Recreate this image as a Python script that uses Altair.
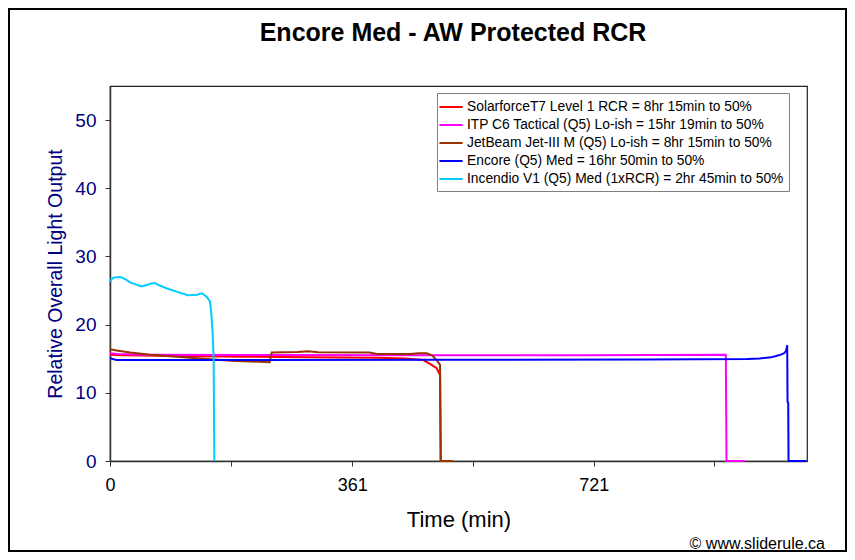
import altair as alt
import pandas as pd

# ---------------- data ----------------
series_names = [
    "SolarforceT7 Level 1 RCR = 8hr 15min to 50%",
    "ITP C6 Tactical (Q5) Lo-ish = 15hr 19min to 50%",
    "JetBeam Jet-III M (Q5) Lo-ish = 8hr 15min to 50%",
    "Encore (Q5) Med = 16hr 50min to 50%",
    "Incendio V1 (Q5) Med (1xRCR) = 2hr 45min to 50%",
]
series_colors = ["#FF0000", "#FF00FF", "#993300", "#0000FF", "#00CCFF"]

solar_t = [0, 20, 100, 200, 300, 400, 440, 467, 477, 487, 492, 493]
solar_v = [15.6, 15.5, 15.4, 15.3, 15.2, 15.15, 15.05, 14.8, 14.25, 13.6, 12.6, 0]

itp_t = [0, 10, 50, 200, 500, 700, 918, 919, 946]
itp_v = [15.8, 15.7, 15.6, 15.55, 15.5, 15.5, 15.6, 0, 0]

jet_t = [0, 10, 30, 60, 100, 140, 180, 210, 238, 241, 280, 295, 310, 387, 398,
         447, 460, 472, 480, 487, 492, 493, 511]
jet_v = [16.4, 16.2, 15.9, 15.6, 15.3, 15.0, 14.7, 14.6, 14.5, 15.9, 16.0, 16.1,
         15.95, 15.9, 15.7, 15.7, 15.8, 15.8, 15.5, 14.8, 14.1, 0, 0]

encore_t = [0, 3, 10, 100, 500, 800, 950, 968, 985, 993, 1000, 1005, 1008,
            1009.5, 1010, 1011, 1011.5, 1038]
encore_v = [15.1, 15.0, 14.8, 14.8, 14.85, 14.9, 14.95, 15.05, 15.2, 15.4, 15.6,
            15.8, 16.2, 17.0, 8.7, 8.5, 0, 0]

incendio_t = [0, 5, 15, 22, 30, 47, 55, 60, 67, 75, 85, 100, 116, 130, 137, 144,
              149, 151, 153, 154.5, 155.5]
incendio_v = [26.4, 26.9, 27.0, 26.7, 26.2, 25.6, 25.8, 26.0, 26.1, 25.7, 25.3,
              24.8, 24.3, 24.4, 24.6, 24.1, 23.4, 21.7, 18.8, 14.8, 0]

x_tick_vals = [0, 180, 361, 541, 721, 901]
x_tick_labels_shown = ["0", "361", "721"]
y_tick_vals = [0, 10, 20, 30, 40, 50]

title_text = "Encore Med - AW Protected RCR"
x_title = "Time (min)"
y_title = "Relative Overall Light Output"
credit_text = "\u00a9 www.sliderule.ca"

# ---------------- build table ----------------
all_t = [solar_t, itp_t, jet_t, encore_t, incendio_t]
all_v = [solar_v, itp_v, jet_v, encore_v, incendio_v]
rows = []
for name, ts, vs in zip(series_names, all_t, all_v):
    for i, (t, v) in enumerate(zip(ts, vs)):
        rows.append({"series": name, "t": t, "v": v, "i": i})
df = pd.DataFrame(rows)

FONT = "Liberation Sans"
W, H = 697, 375

label_list = "[" + ",".join("'%s'" % s for s in x_tick_labels_shown) + "]"

x_enc = alt.X(
    "t:Q",
    scale=alt.Scale(domain=[0, 1039], nice=False, zero=False),
    axis=alt.Axis(
        values=x_tick_vals,
        labelExpr="indexof(%s, datum.label) >= 0 ? datum.label : ''" % label_list,
        title=x_title,
        grid=False,
        labelFontSize=18,
        labelColor="#000000",
        labelPadding=10,
        titleFontSize=22,
        titleFontWeight="normal",
        titleColor="#000000",
        titlePadding=15,
        domainColor="#333333",
        domainWidth=1.5,
        tickColor="#333333",
        tickSize=5,
        labelFlush=False,
    ),
)
y_enc = alt.Y(
    "v:Q",
    scale=alt.Scale(domain=[0, 55], nice=False),
    axis=alt.Axis(
        values=y_tick_vals,
        title=y_title,
        grid=False,
        labelFontSize=19,
        labelColor="#000080",
        labelPadding=9,
        titleFontSize=19.5,
        titleFontWeight="normal",
        titleColor="#000080",
        titlePadding=9,
        domainColor="#333333",
        domainWidth=1.5,
        tickColor="#333333",
        tickSize=5,
        labelFlush=False,
    ),
)
color_enc = alt.Color(
    "series:N",
    scale=alt.Scale(domain=series_names, range=series_colors),
    legend=alt.Legend(
        title=None,
        orient="none",
        legendX=327,
        legendY=7,
        symbolType="M-1.45,0H1.45",
        symbolStrokeWidth=2,
        symbolSize=256,
        labelFontSize=13.8,
        labelFont=FONT,
        labelLimit=500,
        strokeColor="#808080",
        fillColor="#ffffff",
        padding=5,
        rowPadding=2,
        labelOffset=7,
    ),
)

layers = []
for name in series_names:
    layers.append(
        alt.Chart(df)
        .transform_filter(alt.datum.series == name)
        .mark_line(strokeWidth=2)
        .encode(x=x_enc, y=y_enc, color=color_enc, order="i:Q")
    )

one = pd.DataFrame({"k": [0]})
frame = alt.Chart(one).mark_rect(fill=None, stroke="#000000", strokeWidth=2).encode(
    x=alt.value(-101), x2=alt.value(W + 39), y=alt.value(-77), y2=alt.value(H + 90)
)
credit = alt.Chart(one).mark_text(
    text=credit_text, font=FONT, fontSize=16, align="right", baseline="middle", color="#000000"
).encode(x=alt.value(715), y=alt.value(458))
title = alt.Chart(one).mark_text(
    text=title_text, font=FONT, fontSize=25, fontWeight="bold", align="center",
    baseline="alphabetic", color="#000000"
).encode(x=alt.value(343), y=alt.value(-45))

chart = (
    alt.layer(*layers, frame, credit, title)
    .properties(
        width=W,
        height=H,
        autosize=alt.AutoSizeParams(type="none"),
        padding={"left": 102, "top": 78, "right": 40, "bottom": 91},
    )
    .configure(font=FONT)
    .configure_view(stroke="#222222", strokeWidth=1.2)
    .configure_axis(labelFont=FONT, titleFont=FONT)
)

chart.save("out.html", embed_options={"renderer": "svg", "actions": False})
